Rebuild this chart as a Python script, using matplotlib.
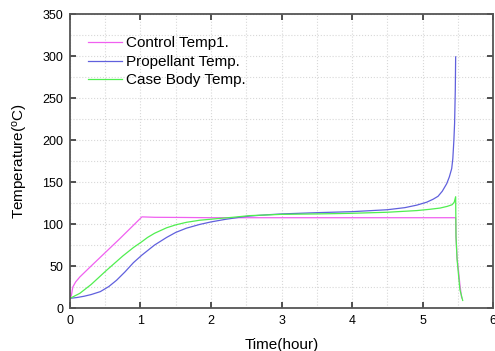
import matplotlib
matplotlib.use("Agg")
from matplotlib import pyplot as plt
from matplotlib.ticker import MultipleLocator

plt.rcParams["font.family"] = ["Liberation Sans", "DejaVu Sans"]
plt.rcParams["mathtext.fontset"] = "custom"
plt.rcParams["mathtext.rm"] = "Liberation Sans"

# values
control_t = [0.0, 0.02, 0.04, 0.08, 0.14, 0.3, 0.5, 0.7, 0.9, 1.02, 1.2, 1.6, 2.0, 2.5, 3.0,
             4.0, 5.0, 5.46, 5.47, 5.475, 5.49, 5.51, 5.53, 5.555]
control_v = [11.5, 15, 25, 31, 37, 50, 66, 82, 98.5, 108.5, 108, 107.8, 107.5, 107.5, 107.5,
             107.5, 107.5, 107.5, 107.5, 85, 60, 45, 28, 12]

propellant_t = [0.0, 0.1, 0.2, 0.3, 0.43, 0.55, 0.66, 0.78, 0.9, 1.02, 1.2, 1.37, 1.5, 1.65,
                1.84, 2.0, 2.2, 2.4, 2.55, 2.8, 3.0, 3.5, 4.0, 4.5, 4.75, 4.92, 5.06, 5.15,
                5.22, 5.28, 5.343, 5.38, 5.414, 5.43, 5.445, 5.455, 5.465, 5.47]
propellant_v = [11.5, 12.5, 14, 16, 19.5, 25.5, 33, 43, 54, 63, 75, 84, 90, 95,
                99.5, 102.5, 105.5, 108, 109.5, 111, 112, 113.5, 114.7, 117, 119.5, 122.5, 126, 129.5,
                133, 139, 148, 156, 166, 178, 200, 220, 260, 299]

case_t = [0.0, 0.14, 0.3, 0.52, 0.75, 0.9, 1.02, 1.1, 1.2, 1.37, 1.5, 1.65, 1.84, 2.1, 2.31,
          2.55, 3.0, 3.5, 3.97, 4.5, 4.92, 5.1, 5.25, 5.35, 5.42, 5.45, 5.47, 5.475, 5.49, 5.51,
          5.53, 5.57]
case_v = [11.5, 17.5, 28, 45, 62, 72, 79, 84, 89, 95.5, 99, 102, 104.5, 106.5, 108,
          110, 111.5, 112, 112.7, 114, 116, 117.5, 119, 121, 123, 126, 132.5, 85, 58, 40,
          22, 9]

fig = plt.figure(figsize=(4.95, 3.51), dpi=100)
ax = fig.add_axes([0.1414, 0.1225, 0.8546, 0.8375])

ax.plot(control_t, control_v, color="#f060f0", lw=0.9, label="Control Temp1.")
ax.plot(propellant_t, propellant_v, color="#6060dd", lw=0.9, label="Propellant Temp.")
ax.plot(case_t, case_v, color="#50ee50", lw=0.9, label="Case Body Temp.")

ax.set_xlim(0, 6)
ax.set_ylim(0, 350)
ax.xaxis.set_major_locator(MultipleLocator(1))
ax.xaxis.set_minor_locator(MultipleLocator(0.5))
ax.yaxis.set_major_locator(MultipleLocator(50))
ax.yaxis.set_minor_locator(MultipleLocator(25))
ax.grid(which="both", color="#d8d8d8", linestyle=":", linewidth=0.8)
ax.tick_params(which="major", direction="in", length=4, width=1.2, top=True, right=True,
               labelsize=9, color="#333333", pad=5)
ax.tick_params(which="minor", length=0, top=True, right=True)
for s in ax.spines.values():
    s.set_color("#555555")
    s.set_linewidth(1.3)

ax.set_xlabel("Time(hour)", fontsize=11, labelpad=8)
ax.set_ylabel("Temperature($\\mathregular{^o}$C)", fontsize=11, labelpad=9)

ax.legend(loc="upper left", frameon=False, fontsize=11, handlelength=2.2,
          borderaxespad=0, labelspacing=0.3, handletextpad=0.3,
          bbox_to_anchor=(0.028, 0.945))

fig.savefig("out.png", dpi=100)
